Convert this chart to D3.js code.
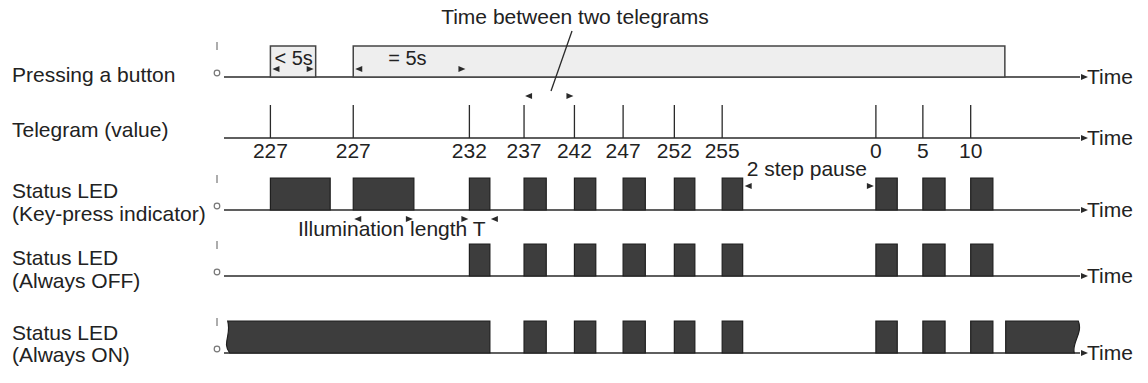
<!DOCTYPE html>
<html>
<head>
<meta charset="utf-8">
<script src="https://cdn.jsdelivr.net/npm/d3@7"></script>
<style>
  body { margin: 0; background: #fff; }
  text { font-family: "Liberation Sans", Arial, sans-serif; fill: #222; }
</style>
</head>
<body>
<script>
// signal names, one entry per row (multi-line labels as arrays)
var rowLabels = [
  ['Pressing a button'],
  ['Telegram (value)'],
  ['Status LED', '(Key-press indicator)'],
  ['Status LED', '(Always OFF)'],
  ['Status LED', '(Always ON)']
];

// telegram instants (time units) and the values sent
var telegramTimes = [5.2, 14.9, 28.5, 34.9, 40.8, 46.5, 52.5, 58.1, 76.1, 81.6, 87.2];
var telegramValues = ['227', '227', '232', '237', '242', '247', '252', '255', '0', '5', '10'];

// button held [start, end]
var buttonPresses = [[5.2, 10.5], [14.9, 91.2]];
var holdMark = 27.8; // where the 5 s hold is reached

// LED on-intervals [start, end]
var keyPressLed = [[5.2, 12.2], [14.9, 22.0], [28.5, 30.9], [34.9, 37.5], [40.8, 43.3],
  [46.5, 49.1], [52.5, 54.9], [58.1, 60.5], [76.1, 78.6], [81.6, 84.2], [87.2, 89.8]];
var alwaysOffLed = [[28.5, 30.9], [34.9, 37.5], [40.8, 43.3], [46.5, 49.1], [52.5, 54.9],
  [58.1, 60.5], [76.1, 78.6], [81.6, 84.2], [87.2, 89.8]];
var alwaysOnLed = [[0.2, 30.9], [34.9, 37.5], [40.8, 43.3], [46.5, 49.1], [52.5, 54.9],
  [58.1, 60.5], [76.1, 78.6], [81.6, 84.2], [87.2, 89.8], [91.3, 99.8]];

var width = 1148, height = 383;
var rowBase = [77, 138, 210, 276, 353];
var labelBase = [[82], [137], [198, 221], [265, 288], [340, 362]];
var pulseH = 32;
var fontSize = '21px';

var svg = d3.select('body').append('svg')
  .attr('width', width)
  .attr('height', height);

var x = d3.scaleLinear().domain([0, 100]).range([226, 1080]);

var ink = '#2a2a2a';

function arrowHead(g, tipX, y, dir) {
  var len = 7, hh = 3;
  g.append('path')
    .attr('d', 'M' + tipX + ',' + y + 'L' + (tipX - dir * len) + ',' + (y - hh) +
      'L' + (tipX - dir * len) + ',' + (y + hh) + 'Z')
    .attr('fill', ink);
}

// row labels
rowLabels.forEach(function(lines, i) {
  lines.forEach(function(s, j) {
    svg.append('text')
      .attr('x', 12)
      .attr('y', labelBase[i][j])
      .style('font-size', fontSize)
      .text(s);
  });
});

// time axes
rowBase.forEach(function(b, i) {
  var g = svg.append('g');
  g.append('line')
    .attr('x1', x(0) - 2).attr('x2', x(100))
    .attr('y1', b).attr('y2', b)
    .attr('stroke', ink).attr('stroke-width', 1.5);
  arrowHead(g, x(100) + 8, b, 1);
  g.append('text')
    .attr('x', x(100) + 7)
    .attr('y', b + 7)
    .style('font-size', fontSize)
    .text('Time');
  if (i !== 1) {
    // I / o level marks
    g.append('line')
      .attr('x1', 217).attr('x2', 217)
      .attr('y1', b - pulseH - 3).attr('y2', b - pulseH + 5)
      .attr('stroke', '#8a8a8a').attr('stroke-width', 1.4);
    g.append('circle')
      .attr('cx', 217).attr('cy', b - 4).attr('r', 2.8)
      .attr('fill', '#fff').attr('stroke', '#777').attr('stroke-width', 1.2);
  }
});

// pressing a button
var pressG = svg.append('g');
pressG.selectAll('rect')
  .data(buttonPresses)
  .enter()
  .append('rect')
  .attr('x', function(d) { return x(d[0]); })
  .attr('y', rowBase[0] - 31)
  .attr('width', function(d) { return x(d[1]) - x(d[0]); })
  .attr('height', 31)
  .attr('fill', '#eeeeee')
  .attr('stroke', '#444')
  .attr('stroke-width', 1.5);

pressG.append('text')
  .attr('x', x(buttonPresses[0][0]) + 4).attr('y', rowBase[0] - 12)
  .style('font-size', '20px').text('< 5s');
arrowHead(pressG, x(buttonPresses[0][0]) + 2, rowBase[0] - 8, -1);
arrowHead(pressG, x(buttonPresses[0][1]) - 2, rowBase[0] - 8, 1);

pressG.append('text')
  .attr('x', x(buttonPresses[1][0]) + 35).attr('y', rowBase[0] - 12)
  .style('font-size', '20px').text('= 5s');
arrowHead(pressG, x(buttonPresses[1][0]) + 2, rowBase[0] - 8, -1);
arrowHead(pressG, x(holdMark) + 2, rowBase[0] - 8, 1);

// telegrams
var telG = svg.append('g');
telG.selectAll('line')
  .data(telegramTimes)
  .enter()
  .append('line')
  .attr('x1', function(d) { return x(d); })
  .attr('x2', function(d) { return x(d); })
  .attr('y1', rowBase[1] - 33)
  .attr('y2', rowBase[1])
  .attr('stroke', ink).attr('stroke-width', 1.3);
telG.selectAll('text')
  .data(telegramValues)
  .enter()
  .append('text')
  .attr('x', function(d, i) { return x(telegramTimes[i]); })
  .attr('y', rowBase[1] + 20)
  .attr('text-anchor', 'middle')
  .style('font-size', fontSize)
  .text(function(d) { return d; });

// "Time between two telegrams"
var tbG = svg.append('g');
tbG.append('text')
  .attr('x', 575).attr('y', 24)
  .attr('text-anchor', 'middle')
  .style('font-size', fontSize)
  .text('Time between two telegrams');
tbG.append('line')
  .attr('x1', 572).attr('y1', 31).attr('x2', 551).attr('y2', 91)
  .attr('stroke', ink).attr('stroke-width', 1.3);
arrowHead(tbG, x(telegramTimes[3]) + 1, 96, -1);
arrowHead(tbG, x(telegramTimes[4]) - 1, 96, 1);

// LED rows
function drawLed(data, base, waveEnds) {
  var g = svg.append('g');
  g.selectAll('path')
    .data(data)
    .enter()
    .append('path')
    .attr('d', function(d, i) {
      var x0 = x(d[0]), x1 = x(d[1]), top = base - pulseH;
      var p = 'M' + (waveEnds && i === 0 ? x0 + 2 : x0) + ',' + base;
      if (waveEnds && i === 0) {
        p += 'C' + (x0 - 6) + ',' + (base - 10) + ' ' + (x0 + 4) + ',' + (top + 14) + ' ' + x0 + ',' + top;
      } else {
        p += 'L' + x0 + ',' + top;
      }
      p += 'L' + x1 + ',' + top;
      if (waveEnds && i === data.length - 1) {
        p += 'C' + (x1 + 5) + ',' + (top + 12) + ' ' + (x1 - 7) + ',' + (base - 10) + ' ' + (x1 - 4) + ',' + base;
      } else {
        p += 'L' + x1 + ',' + base;
      }
      return p + 'Z';
    })
    .attr('fill', '#3d3d3d')
    .attr('stroke', '#1f1f1f')
    .attr('stroke-width', 1.2);
  return g;
}

var keyG = drawLed(keyPressLed, rowBase[2], false);
drawLed(alwaysOffLed, rowBase[3], false);
drawLed(alwaysOnLed, rowBase[4], true);

// key-press row annotations
keyG.append('text')
  .attr('x', x(keyPressLed[7][1]) + 4).attr('y', rowBase[2] - 34)
  .style('font-size', fontSize).text('2 step pause');
arrowHead(keyG, x(keyPressLed[7][1]) + 2, rowBase[2] - 24, -1);
arrowHead(keyG, x(keyPressLed[8][0]) - 2, rowBase[2] - 24, 1);

keyG.append('text')
  .attr('x', 298).attr('y', rowBase[2] + 26)
  .style('font-size', fontSize).text('Illumination length T');
arrowHead(keyG, x(keyPressLed[1][0]) + 1, rowBase[2] + 9, -1);
arrowHead(keyG, x(keyPressLed[1][1]) - 1, rowBase[2] + 9, 1);
arrowHead(keyG, x(keyPressLed[2][0]) - 1, rowBase[2] + 9, 1);
arrowHead(keyG, x(keyPressLed[2][1]) + 1, rowBase[2] + 9, -1);
</script>
</body>
</html>
